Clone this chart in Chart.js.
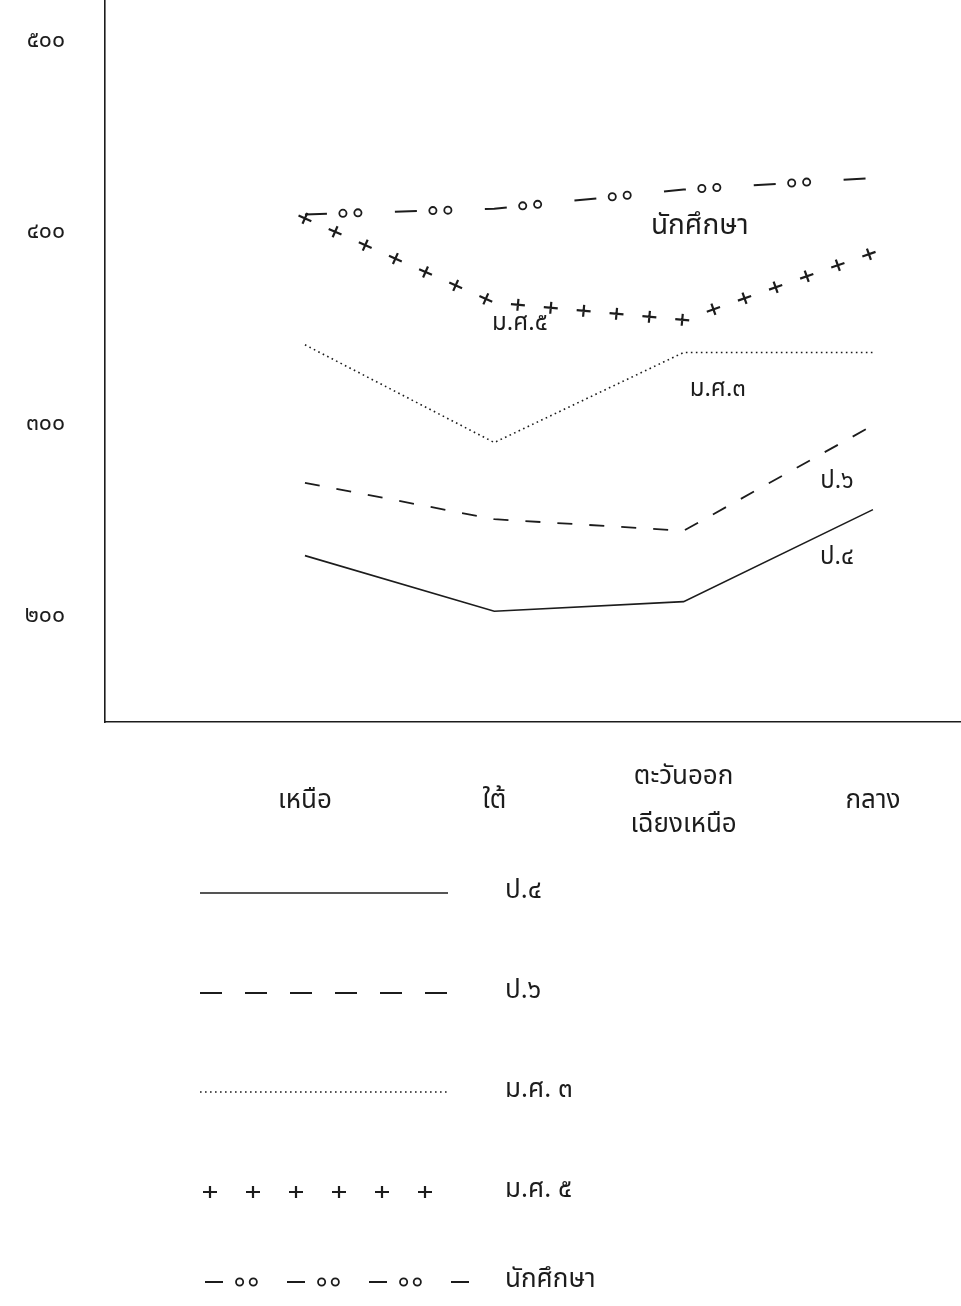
<!DOCTYPE html>
<html lang="th">
<head>
<meta charset="utf-8">
<script src="https://cdn.jsdelivr.net/npm/chart.js@4.4.1/dist/chart.umd.min.js"></script>
<style>
  html, body { margin: 0; padding: 0; background: #fff; }
  #wrap { width: 961px; height: 1306px; }
</style>
</head>
<body>
<div id="wrap"><canvas id="regionChart"></canvas></div>
<script>
// values
const regions      = ["เหนือ", "ใต้", "ตะวันออก\nเฉียงเหนือ", "กลาง"];
const p4           = [232, 203, 208, 256];
const p6           = [270, 251, 245, 300];
const ms3          = [342, 291, 338, 338];
const ms5          = [408, 364, 355, 390];
const students     = [410, 413, 423, 429];
const yTicks       = [200, 300, 400, 500];
const legendNames  = ["ป.๔", "ป.๖", "ม.ศ. ๓", "ม.ศ. ๕", "นักศึกษา"];
const inlineNames  = ["ป.๔", "ป.๖", "ม.ศ.๓", "ม.ศ.๕", "นักศึกษา"];

const INK       = "#1c1c1c";
const THAI_FONT = "'Noto Sans Thai', Loma, Garuda, 'Tlwg Typist', Norasi, 'DejaVu Sans', sans-serif";

const thaiDigits = s => String(s).replace(/[0-9]/g, d => "๐๑๒๓๔๕๖๗๘๙"[d]);
const toPoints   = vals => vals.map((v, i) => ({ x: i, y: v }));

// walk along a polyline and call cb every `step` px, starting at `start`
function walkPath(pts, step, start, cb) {
  let next = start, acc = 0;
  for (let i = 1; i < pts.length; i++) {
    const a = pts[i - 1], b = pts[i];
    const len = Math.hypot(b.x - a.x, b.y - a.y);
    const ang = Math.atan2(b.y - a.y, b.x - a.x);
    while (next <= acc + len) {
      const t = (next - acc) / len;
      cb(a.x + (b.x - a.x) * t, a.y + (b.y - a.y) * t, ang);
      next += step;
    }
    acc += len;
  }
}

function drawPlus(ctx, x, y, ang) {
  ctx.save();
  ctx.translate(x, y);
  ctx.rotate(ang);
  ctx.lineWidth = 2.2;
  ctx.beginPath();
  ctx.moveTo(-7, 0); ctx.lineTo(7, 0);
  ctx.moveTo(0, -6); ctx.lineTo(0, 6);
  ctx.stroke();
  ctx.restore();
}

function drawRing(ctx, x, y) {
  ctx.lineWidth = 1.8;
  ctx.beginPath();
  ctx.arc(x, y, 3.6, 0, Math.PI * 2);
  ctx.stroke();
}

function drawMarks(ctx, ds, pts, plusStep, plusStart, ringStep) {
  ctx.strokeStyle = INK;
  if (ds.mark === "plus") {
    walkPath(pts, plusStep, plusStart, (x, y, a) => drawPlus(ctx, x, y, a));
  } else if (ds.mark === "rings") {
    const k = ringStep / 90;
    walkPath(pts, ringStep, 38 * k, (x, y) => drawRing(ctx, x, y));
    walkPath(pts, ringStep, 53 * k, (x, y) => drawRing(ctx, x, y));
  }
}

const markPlugin = {
  id: "markPlugin",
  afterDatasetsDraw(chart) {
    const ctx = chart.ctx;
    ctx.save();
    chart.data.datasets.forEach((ds, i) => {
      const pts = chart.getDatasetMeta(i).data.map(p => ({ x: p.x, y: p.y }));
      drawMarks(ctx, ds, pts, 33, 0, 90);
    });

    // series names written beside the lines
    const { x, y } = chart.scales;
    const spots = [[2.81, 230], [2.81, 270], [2.18, 318], [1.135, 352], [2.085, 403]];
    ctx.fillStyle = INK;
    ctx.textAlign = "center";
    ctx.textBaseline = "middle";
    inlineNames.forEach((name, i) => {
      ctx.font = (i === 4 ? 28 : 24) + "px " + THAI_FONT;
      ctx.fillText(name, x.getPixelForValue(spots[i][0]), y.getPixelForValue(spots[i][1]));
    });
    ctx.restore();
  },
  afterDraw(chart) {
    // hand-made legend under the axis labels
    const ctx = chart.ctx;
    const rowsY = [893, 993, 1092, 1192, 1282];
    ctx.save();
    chart.data.datasets.forEach((ds, i) => {
      const yy = rowsY[i];
      const x1 = ds.mark === "rings" ? 205 : 200;
      const x2 = ds.mark === "rings" ? 469 : 448;
      const pts = [{ x: x1, y: yy }, { x: x2, y: yy }];
      ctx.strokeStyle = INK;
      if (ds.mark !== "plus") {
        ctx.lineWidth = ds.borderWidth;
        ctx.setLineDash(ds.legendDash || ds.borderDash || []);
        ctx.beginPath();
        ctx.moveTo(x1, yy);
        ctx.lineTo(x2, yy);
        ctx.stroke();
        ctx.setLineDash([]);
      }
      drawMarks(ctx, ds, pts, 43, 10, 82);
      ctx.fillStyle = INK;
      ctx.font = "26px " + THAI_FONT;
      ctx.textAlign = "left";
      ctx.textBaseline = "middle";
      ctx.fillText(legendNames[i], 505, yy);
    });
    ctx.restore();
  }
};

const ctx = document.getElementById("regionChart").getContext("2d");

new Chart(ctx, {
  type: "line",
  data: {
    datasets: [
      { label: legendNames[0], data: toPoints(p4), borderColor: INK, borderWidth: 1.6 },
      { label: legendNames[1], data: toPoints(p6), borderColor: INK, borderWidth: 1.8, borderDash: [15, 17], legendDash: [22, 23] },
      { label: legendNames[2], data: toPoints(ms3), borderColor: INK, borderWidth: 1.6, borderDash: [1.6, 3.4] },
      { label: legendNames[3], data: toPoints(ms5), borderColor: INK, showLine: false, mark: "plus" },
      { label: legendNames[4], data: toPoints(students), borderColor: INK, borderWidth: 2, borderDash: [22, 68], legendDash: [18, 64], mark: "rings" }
    ]
  },
  options: {
    responsive: true,
    maintainAspectRatio: false,
    animation: false,
    layout: { padding: { top: 0, right: 0, left: 0, bottom: 454 } },
    elements: { point: { radius: 0 }, line: { tension: 0 } },
    plugins: {
      legend: { display: false },
      tooltip: { enabled: false }
    },
    scales: {
      x: {
        type: "linear",
        min: -1.056,
        max: 3.465,
        grid: { display: false, drawTicks: false },
        border: { display: true, color: INK, width: 1.6 },
        afterBuildTicks: s => { s.ticks = regions.map((_, i) => ({ value: i })); },
        afterFit: s => { s.height = 130; s.paddingLeft = 0; s.paddingRight = 0; },
        ticks: {
          autoSkip: false,
          maxRotation: 0,
          padding: 57,
          crossAlign: "center",
          color: INK,
          font: { family: THAI_FONT, size: 26, lineHeight: 1.85 },
          callback: v => regions[v] ? regions[v].split("\n") : ""
        }
      },
      y: {
        min: 145.2,
        max: 521.9,
        grid: { display: false, drawTicks: false },
        border: { display: true, color: INK, width: 1.6 },
        afterBuildTicks: s => { s.ticks = yTicks.map(v => ({ value: v })); },
        afterFit: s => { s.width = 105; s.paddingTop = 0; s.paddingBottom = 0; },
        ticks: {
          padding: 40,
          color: INK,
          font: { family: THAI_FONT, size: 23 },
          callback: v => thaiDigits(v)
        }
      }
    }
  },
  plugins: [markPlugin]
});
</script>
</body>
</html>
